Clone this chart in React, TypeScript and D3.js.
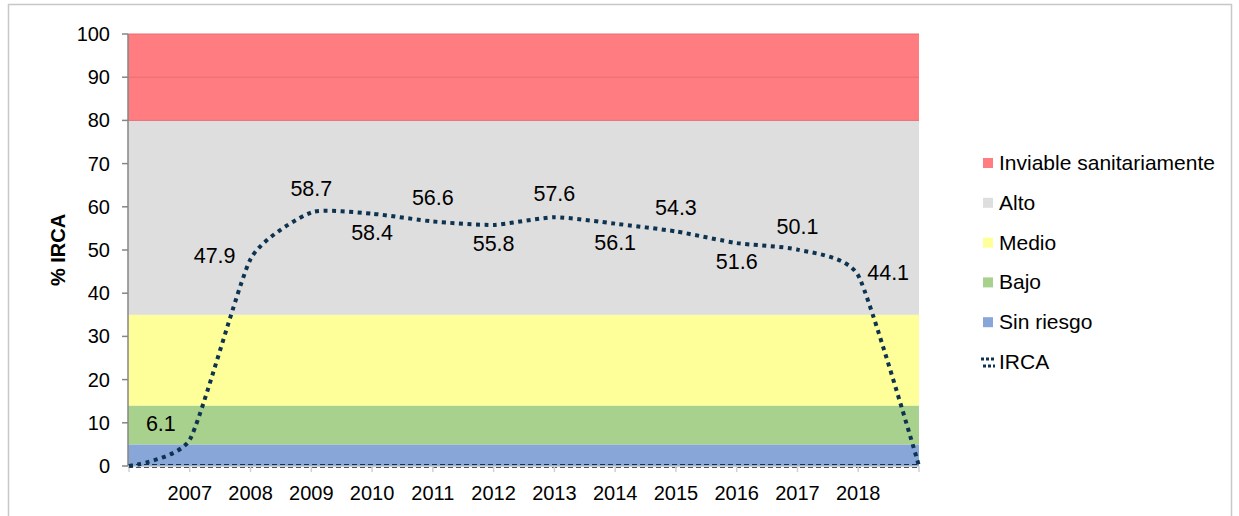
import React from 'react';
import * as d3 from 'd3';

const W = 1239, H = 516;

// categories (first and last slots are empty, the line starts and ends at 0)
const years = ['', '2007', '2008', '2009', '2010', '2011', '2012', '2013', '2014', '2015', '2016', '2017', '2018', ''];
const irca = [0, 6.1, 47.9, 58.7, 58.4, 56.6, 55.8, 57.6, 56.1, 54.3, 51.6, 50.1, 44.1, 0];
const labelPlace = ['none', 'upleft', 'left', 'above', 'below', 'above', 'below', 'above', 'below', 'above', 'below', 'above', 'right', 'none'];

// risk bands (stacked from 0)
const bandNames = ['Sin riesgo', 'Bajo', 'Medio', 'Alto', 'Inviable sanitariamente'];
const bandTops = [5, 14, 35, 80, 100];
const bandColors = ['#88A7D8', '#A9D18E', '#FFFF99', '#DEDEDE', '#FF7D80'];

const yTicks = d3.range(0, 101, 10);

const font = 'Liberation Sans, Arial, sans-serif';

const x = d3.scalePoint<number>()
  .domain(d3.range(years.length))
  .range([129, 919]);

const y = d3.scaleLinear()
  .domain([0, 100])
  .range([466, 34]);

const line = d3.line<number>()
  .x((d, i) => x(i)!)
  .y(d => y(d))
  .curve(d3.curveCardinal.tension(0.45));

function labelXY(i: number) {
  const px = x(i)!, py = y(irca[i]);
  switch (labelPlace[i]) {
    case 'above': return [px, py - 16, 'middle'];
    case 'below': return [px, py + 26, 'middle'];
    case 'left': return [px - 15, py + 4, 'end'];
    case 'upleft': return [px - 14, py - 9, 'end'];
    case 'right': return [px + 9, py + 5, 'start'];
  }
  return null;
}

export default function App() {
  const x0 = 128, x1 = 919;
  const bands = bandTops.map((top, i) => ({
    name: bandNames[i],
    lo: i === 0 ? 0 : bandTops[i - 1],
    hi: top,
    color: bandColors[i],
  }));
  const legend = [...bands].reverse();

  return (
    <svg width={W} height={H} style={{ position: 'absolute', left: 0, top: 0 }} fontFamily={font}>
      <rect x={0} y={0} width={W} height={H} fill="#fff" />
      <rect x={8.5} y={4.5} width={1223} height={540} fill="none" stroke="#C8C8C8" strokeWidth={1.5} />

      {/* bands */}
      {bands.map(b => (
        <rect key={b.name} x={x0} y={y(b.hi)} width={x1 - x0} height={y(b.lo) - y(b.hi)} fill={b.color} />
      ))}
      {/* the red band shows its gridlines and edges */}
      {yTicks.filter(t => t >= 80).map(t => (
        <line key={t} x1={x0} x2={x1} y1={y(t)} y2={y(t)} stroke="#E86E72" strokeWidth={1} />
      ))}

      {/* zero line of dashed series */}
      <line x1={x0} x2={x1} y1={y(0) - 1.5} y2={y(0) - 1.5} stroke="#1A2E44" strokeWidth={1} strokeDasharray="5,3" />
      <line x1={x0} x2={x1} y1={y(0) + 1.5} y2={y(0) + 1.5} stroke="#1A2E44" strokeWidth={1} strokeDasharray="5,3" />

      {/* y axis */}
      <line x1={x0} x2={x0} y1={y(100)} y2={y(0)} stroke="#868686" strokeWidth={1.5} />
      {yTicks.map(t => (
        <g key={t}>
          <line x1={x0 - 6} x2={x0} y1={y(t)} y2={y(t)} stroke="#868686" strokeWidth={1.5} />
          <text x={110} y={y(t) + 7} textAnchor="end" fontSize={20} fill="#000">{t}</text>
        </g>
      ))}
      <text transform={`translate(65,${y(50)}) rotate(-90)`} textAnchor="middle" fontSize={20} fontWeight="bold">% IRCA</text>

      {/* x axis */}
      <line x1={x0} x2={x1} y1={y(0) + 0.5} y2={y(0) + 0.5} stroke="#D0D0D0" strokeWidth={1.5} />
      {years.map((yr, i) => (
        <g key={i}>
          <line x1={x(i)!} x2={x(i)!} y1={y(0)} y2={y(0) + 6} stroke="#D0D0D0" strokeWidth={1.5} />
          <text x={x(i)!} y={500} textAnchor="middle" fontSize={20}>{yr}</text>
        </g>
      ))}

      {/* IRCA line */}
      <path d={line(irca)!} fill="none" stroke="#0E3350" strokeWidth={4} strokeDasharray="4,4.5" />
      {irca.map((v, i) => {
        const p = labelXY(i);
        if (!p) return null;
        return (
          <text key={i} x={p[0] as number} y={p[1] as number} textAnchor={p[2] as string} fontSize={21.5}>{v.toFixed(1)}</text>
        );
      })}

      {/* legend */}
      {legend.map((b, i) => (
        <g key={b.name} transform={`translate(983,${163 + i * 39.8})`}>
          <rect x={0} y={-5} width={10} height={10} fill={b.color} />
          <text x={16} y={7} fontSize={21}>{b.name}</text>
        </g>
      ))}
      <g transform={`translate(983,${163 + 5 * 39.8})`}>
        <line x1={-2} x2={12} y1={-3} y2={-3} stroke="#0E3350" strokeWidth={3} strokeDasharray="3,2" />
        <line x1={0} x2={12} y1={4} y2={4} stroke="#0E3350" strokeWidth={3} strokeDasharray="3,2" />
        <text x={16} y={7} fontSize={21}>IRCA</text>
      </g>
    </svg>
  );
}
